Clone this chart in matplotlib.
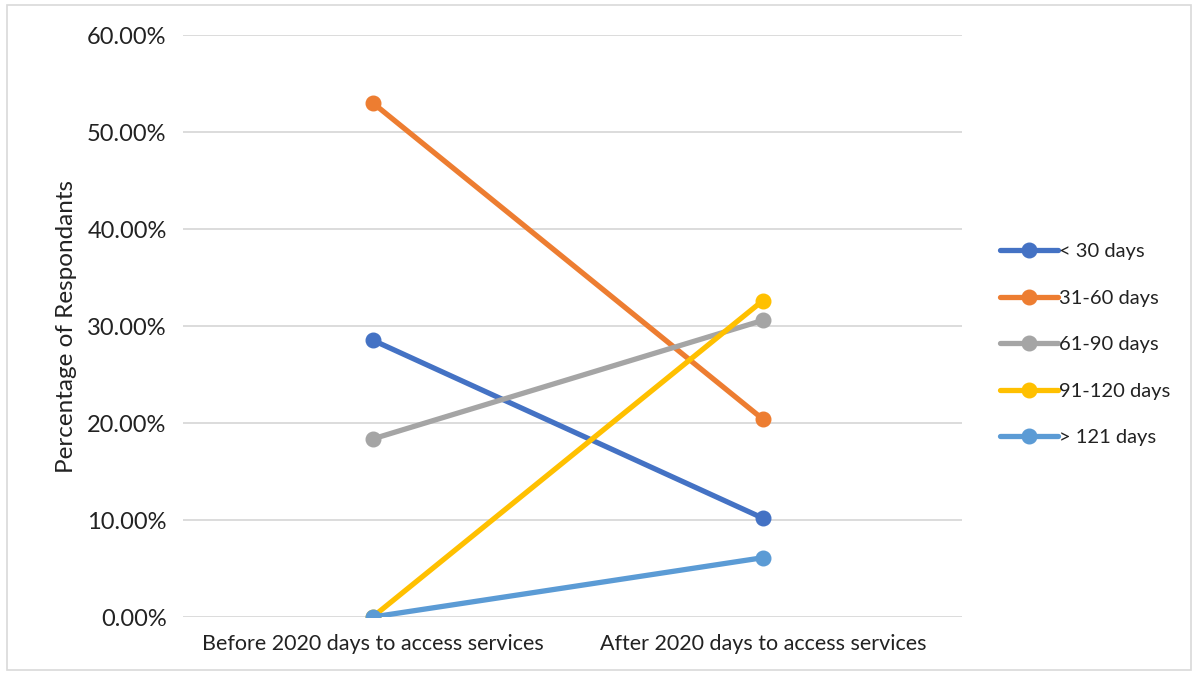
import matplotlib
matplotlib.use("Agg")
import matplotlib.pyplot as plt
from matplotlib.patches import Rectangle
from matplotlib.ticker import FuncFormatter

categories = ["Before 2020 days to access services", "After 2020 days to access services"]
series_names = ["< 30 days", "31-60 days", "61-90 days", "91-120 days", "> 121 days"]
under_30 = [28.57, 10.20]
days_31_60 = [53.06, 20.41]
days_61_90 = [18.37, 30.61]
days_91_120 = [0.0, 32.65]
over_121 = [0.0, 6.12]
y_ticks = [0, 10, 20, 30, 40, 50, 60]

colors = ["#4472C4", "#ED7D31", "#A5A5A5", "#FFC000", "#5B9BD5"]


def main():
    plt.rcParams["font.family"] = ["Lato", "DejaVu Sans"]
    fig = plt.figure(figsize=(11.98, 6.77), dpi=100)
    ax = fig.add_axes([0.153, 0.0886, 0.65, 0.859])

    all_series = [under_30, days_31_60, days_61_90, days_91_120, over_121]
    x = list(range(len(categories)))
    for name, vals, col in zip(series_names, all_series, colors):
        ax.plot(x, vals, color=col, lw=3.8, marker="o", ms=10.5,
                label=name, solid_capstyle="round", zorder=3)

    ax.set_xlim(-0.485, 1.51)
    ax.set_ylim(0, 60)
    ax.set_yticks(y_ticks)
    ax.yaxis.set_major_formatter(FuncFormatter(lambda v, p: f"{v:.2f}%"))
    ax.set_xticks(x)
    ax.set_xticklabels(categories)
    ax.grid(axis="y", color="#D9D9D9", lw=1.3)
    ax.set_axisbelow(True)
    for s in ax.spines.values():
        s.set_visible(False)
    ax.tick_params(length=0, colors="#222222")
    ax.tick_params(axis="y", pad=12, labelsize=17)
    ax.tick_params(axis="x", pad=12, labelsize=15.5)
    ax.set_ylabel("Percentage of Respondants", fontsize=17.5, color="#222222",
                  labelpad=7)

    leg = ax.legend(loc="center left", bbox_to_anchor=(1.038, 0.468), frameon=False,
                    fontsize=14.5, handlelength=2.9, handletextpad=0.05,
                    labelspacing=1.46, borderaxespad=0)
    for t in leg.get_texts():
        t.set_color("#222222")

    fig.patches.append(Rectangle((0.006, 0.01), 0.988, 0.982, transform=fig.transFigure,
                                 fill=False, edgecolor="#D9D9D9", lw=1.2))
    fig.savefig("out.png", dpi=100)


if __name__ == "__main__":
    main()
